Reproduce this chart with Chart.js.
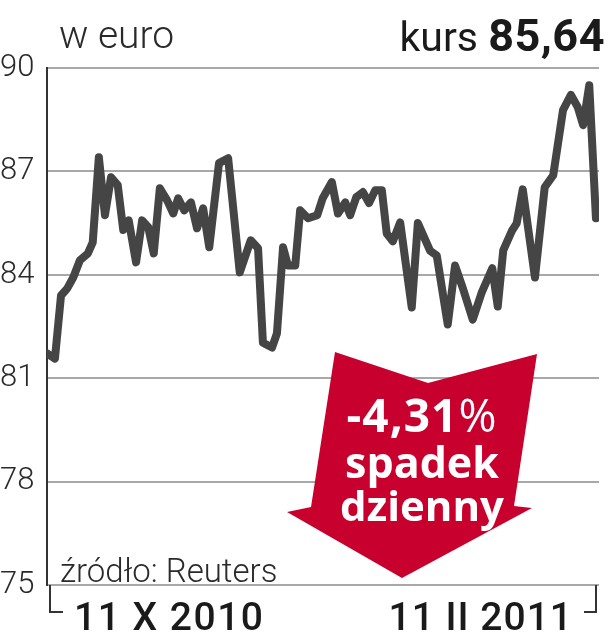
<!DOCTYPE html>
<html lang="pl">
<head>
<meta charset="utf-8">
<script src="https://cdn.jsdelivr.net/npm/chart.js@4/dist/chart.umd.min.js"></script>
<style>
  html, body { margin: 0; padding: 0; background: #fff; }
  #wrap { position: relative; width: 608px; height: 640px; overflow: hidden; }
  #wykres { position: absolute; left: 0; top: 0; }
  .txt { position: absolute; white-space: nowrap; line-height: 1; color: #1a1a1a; }
  #strzalka {
    position: absolute; left: 0; top: 0; width: 608px; height: 640px;
    background: #c8002e;
    clip-path: polygon(335px 352px, 428px 383px, 537px 354px, 514px 506px, 532px 508px, 402px 578px, 287px 512px, 311px 507px);
  }
  .strz { position: absolute; left: 322px; width: 200px; text-align: center; color: #fff;
          font-family: "Open Sans", sans-serif; font-weight: 700; line-height: 1; white-space: nowrap; }
</style>
</head>
<body>
<div id="wrap">
  <canvas id="wykres" width="608" height="640"></canvas>
  <div id="strzalka"></div>
  <div class="txt" style="left:59px; top:16px; font-family:Roboto; font-weight:300; font-size:39px; color:#2a2a2a;">w euro</div>
  <div class="txt" style="right:3px; top:13px; font-family:Roboto; font-size:41px;">kurs <span style="font-weight:700; font-size:45px; letter-spacing:0.5px;">85,64</span></div>
  <div class="txt" style="left:60px; top:554px; font-family:Roboto; font-weight:300; font-size:33px; color:#2a2a2a;">źródło: Reuters</div>
  <div class="txt" style="left:74px; top:598px; font-family:Roboto; font-weight:500; font-size:39px; letter-spacing:1.5px;">11 X 2010</div>
  <div class="txt" style="right:35px; top:598px; font-family:Roboto; font-weight:500; font-size:39px; letter-spacing:1px;">11 II 2011</div>
  <div class="strz" style="top:391px; font-size:46px; letter-spacing:1px;">-4,31<span style="font-weight:400;">%</span></div>
  <div class="strz" style="top:440px; font-size:43px;">spadek</div>
  <div class="strz" style="top:484px; font-size:42px;">dzienny</div>
</div>

<script>
// ==============================
// DANE
// ==============================

// dzień notowań (oś pozioma)
const dni = [
    0, 1.3, 2.3, 3.3, 4.3, 5.4, 6.7, 7.5, 8.5, 9.5,
    10.5, 11.6, 12.5, 13.4, 14.6, 15.6, 16.6, 17.5, 18.5, 19.7,
    20.7, 21.5, 22.5, 23.6, 24.6, 25.6, 26.6, 28.2, 29.7, 31.6,
    33.4, 34.6, 35.4, 36.9, 37.7, 38.7, 39.5, 40.7, 41.5, 42.8,
    44.3, 45.2, 46.7, 47.7, 48.9, 49.7, 50.7, 51.8, 52.8, 53.8,
    54.9, 55.7, 56.7, 57.9, 59.8, 60.8, 62.8, 63.9, 65.7, 66.9,
    68.2, 69.8, 71.3, 73.0, 73.9, 74.8, 76.2, 77.0, 78.0, 80.0,
    81.6, 83.0, 84.6, 85.9, 87.0, 87.9, 88.9, 90.0
];

// kurs w euro
const kurs = [
    81.72, 81.57, 83.40, 83.60, 83.92, 84.42, 84.62, 84.94, 87.41, 85.73,
    86.83, 86.60, 85.30, 85.58, 84.36, 85.58, 85.38, 84.62, 86.51, 86.16,
    85.78, 86.22, 85.87, 86.10, 85.35, 85.93, 84.80, 87.24, 87.38, 84.07,
    85.00, 84.77, 82.03, 81.89, 82.30, 84.80, 84.27, 84.27, 85.87, 85.64,
    85.73, 86.22, 86.69, 85.78, 86.10, 85.73, 86.25, 86.40, 86.08, 86.45,
    86.45, 85.20, 84.97, 85.52, 83.05, 85.50, 84.70, 84.56, 82.56, 84.27,
    83.60, 82.70, 83.50, 84.19, 83.08, 84.71, 85.27, 85.49, 86.48, 83.92,
    86.54, 86.89, 88.78, 89.22, 88.87, 88.34, 89.50, 85.64
];

// oś pionowa
const osMin = 75;
const osMax = 90;
const osKrok = 3;

// ==============================
// NAWIASY POD OSIĄ
// ==============================
const nawiasy = {
    id: 'nawiasy',
    afterDraw(chart) {
        const { ctx, chartArea } = chart;
        ctx.save();
        ctx.strokeStyle = '#333';
        ctx.lineWidth = 2;
        ctx.beginPath();
        ctx.moveTo(chartArea.left + 3, chartArea.bottom);
        ctx.lineTo(chartArea.left + 3, chartArea.bottom + 27);
        ctx.lineTo(chartArea.left + 16, chartArea.bottom + 27);
        ctx.moveTo(chartArea.right - 3, chartArea.bottom);
        ctx.lineTo(chartArea.right - 3, chartArea.bottom + 27);
        ctx.lineTo(chartArea.right - 15, chartArea.bottom + 27);
        ctx.stroke();
        ctx.restore();
    }
};

// ==============================
// WYKRES
// ==============================
const punkty = dni.map((d, i) => ({ x: d, y: kurs[i] }));

new Chart(document.getElementById('wykres'), {
    type: 'line',
    data: {
        datasets: [{
            data: punkty,
            borderColor: '#454545',
            borderWidth: 8,
            borderJoinStyle: 'round',
            borderCapStyle: 'round',
            pointRadius: 0,
            tension: 0
        }]
    },
    options: {
        responsive: false,
        animation: false,
        layout: {
            padding: { top: 68, right: 9, bottom: 55, left: 0 }
        },
        plugins: {
            legend: { display: false },
            tooltip: { enabled: false }
        },
        scales: {
            x: {
                type: 'linear',
                min: 0,
                max: 90.5,
                display: false
            },
            y: {
                min: osMin,
                max: osMax,
                afterFit(scale) { scale.width = 47; },
                ticks: {
                    stepSize: osKrok,
                    crossAlign: 'far',
                    color: '#2a2a2a',
                    font: { family: 'Roboto', weight: '300', size: 31 },
                    padding: 0
                },
                grid: {
                    color: '#a8a8a8',
                    lineWidth: 2,
                    drawTicks: false
                },
                border: {
                    color: '#333',
                    width: 2
                }
            }
        }
    },
    plugins: [nawiasy]
});
</script>
</body>
</html>
